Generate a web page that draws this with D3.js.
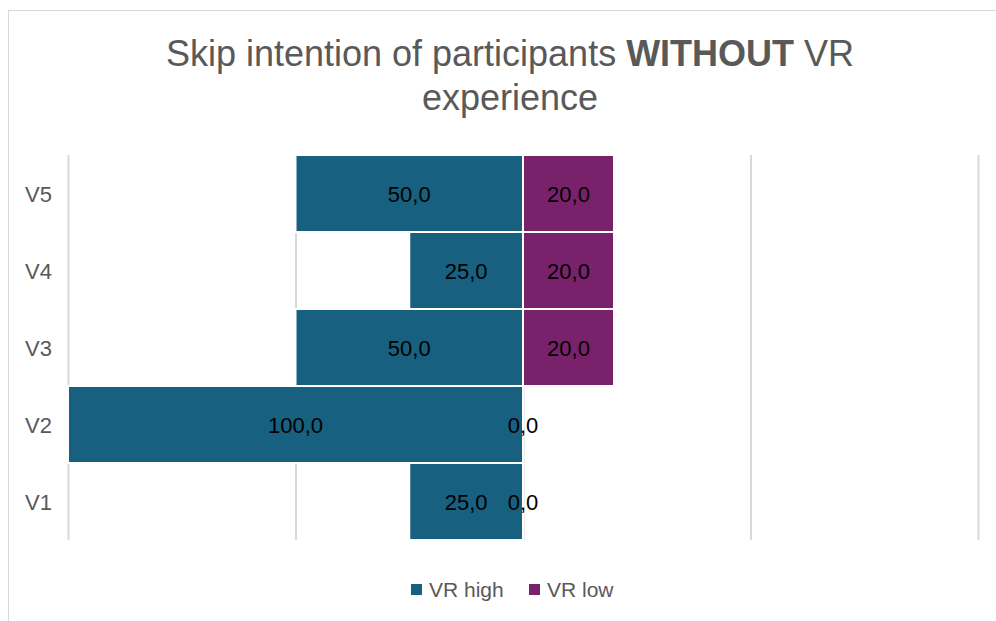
<!DOCTYPE html>
<html>
<head>
<meta charset="utf-8">
<script src="https://cdn.jsdelivr.net/npm/d3@7/dist/d3.min.js"></script>
<style>
  html, body { margin: 0; padding: 0; background: #fff; }
  svg { display: block; }
</style>
</head>
<body>
<svg id="chart" width="996" height="621"></svg>
<script>
// Categories (top to bottom) and the two series, in percent
const categories = ["V5", "V4", "V3", "V2", "V1"];
const vrHigh = [50, 25, 50, 100, 25];
const vrLow = [20, 20, 20, 0, 0];
const seriesNames = ["VR high", "VR low"];
const xTicks = [-100, -50, 0, 50, 100];

const colors = { high: "#17607f", low: "#7a216b" };
const textFont = "'Liberation Sans', Arial, sans-serif";

const svg = d3.select("#chart");
const W = 996, H = 621;

// Chart frame
svg.append("rect")
  .attr("x", 8.5).attr("y", 10.5)
  .attr("width", W + 10).attr("height", H + 10)
  .attr("fill", "#fff")
  .attr("stroke", "#d9d9d9").attr("stroke-width", 1);

// Title with a bold word
const title = svg.append("text")
  .attr("text-anchor", "middle")
  .attr("font-family", textFont)
  .attr("font-size", 36)
  .attr("fill", "#595959");
const line1 = title.append("tspan").attr("x", 510).attr("y", 66);
line1.append("tspan").text("Skip intention of participants ");
line1.append("tspan").attr("font-weight", "bold").text("WITHOUT");
line1.append("tspan").text(" VR");
title.append("tspan").attr("x", 510).attr("y", 110).text("experience");

// Scales
const x = d3.scaleLinear().domain([-100, 100]).range([68, 978]);
const y = d3.scaleBand().domain(categories).range([155, 540]).paddingInner(0).paddingOuter(0);

// Vertical gridlines
svg.append("g").selectAll("line")
  .data(xTicks)
  .join("line")
  .attr("x1", d => x(d) + 0.5).attr("x2", d => x(d) + 0.5)
  .attr("y1", 155).attr("y2", 540)
  .attr("stroke", "#d9d9d9").attr("stroke-width", 2);

const rows = categories.map((c, i) => ({ cat: c, high: vrHigh[i], low: vrLow[i] }));
const fmt = v => d3.format(".1f")(v).replace(".", ",");

// VR high bars extend to the left of zero
svg.append("g").selectAll("rect")
  .data(rows)
  .join("rect")
  .attr("x", d => x(-d.high))
  .attr("y", d => y(d.cat))
  .attr("width", d => x(0) - x(-d.high))
  .attr("height", y.bandwidth())
  .attr("fill", colors.high)
  .attr("stroke", "#fff").attr("stroke-width", 2);

// VR low bars extend to the right of zero
svg.append("g").selectAll("rect")
  .data(rows)
  .join("rect")
  .attr("x", x(0))
  .attr("y", d => y(d.cat))
  .attr("width", d => x(d.low) - x(0))
  .attr("height", y.bandwidth())
  .attr("fill", colors.low)
  .attr("stroke", "#fff").attr("stroke-width", 2);

// Value labels, centred on each bar
const labels = svg.append("g")
  .attr("font-family", textFont)
  .attr("font-size", 22)
  .attr("fill", "#000")
  .attr("text-anchor", "middle");
labels.selectAll("text.high")
  .data(rows)
  .join("text")
  .attr("class", "high")
  .attr("x", d => (x(-d.high) + x(0)) / 2)
  .attr("y", d => y(d.cat) + y.bandwidth() / 2 + 8)
  .text(d => fmt(d.high));
labels.selectAll("text.low")
  .data(rows)
  .join("text")
  .attr("class", "low")
  .attr("x", d => (x(d.low) + x(0)) / 2)
  .attr("y", d => y(d.cat) + y.bandwidth() / 2 + 8)
  .text(d => fmt(d.low));

// Category axis labels
svg.append("g")
  .attr("font-family", textFont)
  .attr("font-size", 22)
  .attr("fill", "#595959")
  .selectAll("text")
  .data(categories)
  .join("text")
  .attr("x", 25)
  .attr("y", d => y(d) + y.bandwidth() / 2 + 8)
  .text(d => d);

// Legend
const legend = svg.append("g")
  .attr("font-family", textFont)
  .attr("font-size", 21)
  .attr("fill", "#595959");
const legendItems = [
  { name: seriesNames[0], color: colors.high, x: 411 },
  { name: seriesNames[1], color: colors.low, x: 529 }
];
legendItems.forEach(it => {
  legend.append("rect")
    .attr("x", it.x).attr("y", 584)
    .attr("width", 11).attr("height", 11)
    .attr("fill", it.color);
  legend.append("text")
    .attr("x", it.x + 18).attr("y", 597)
    .text(it.name);
});
</script>
</body>
</html>
